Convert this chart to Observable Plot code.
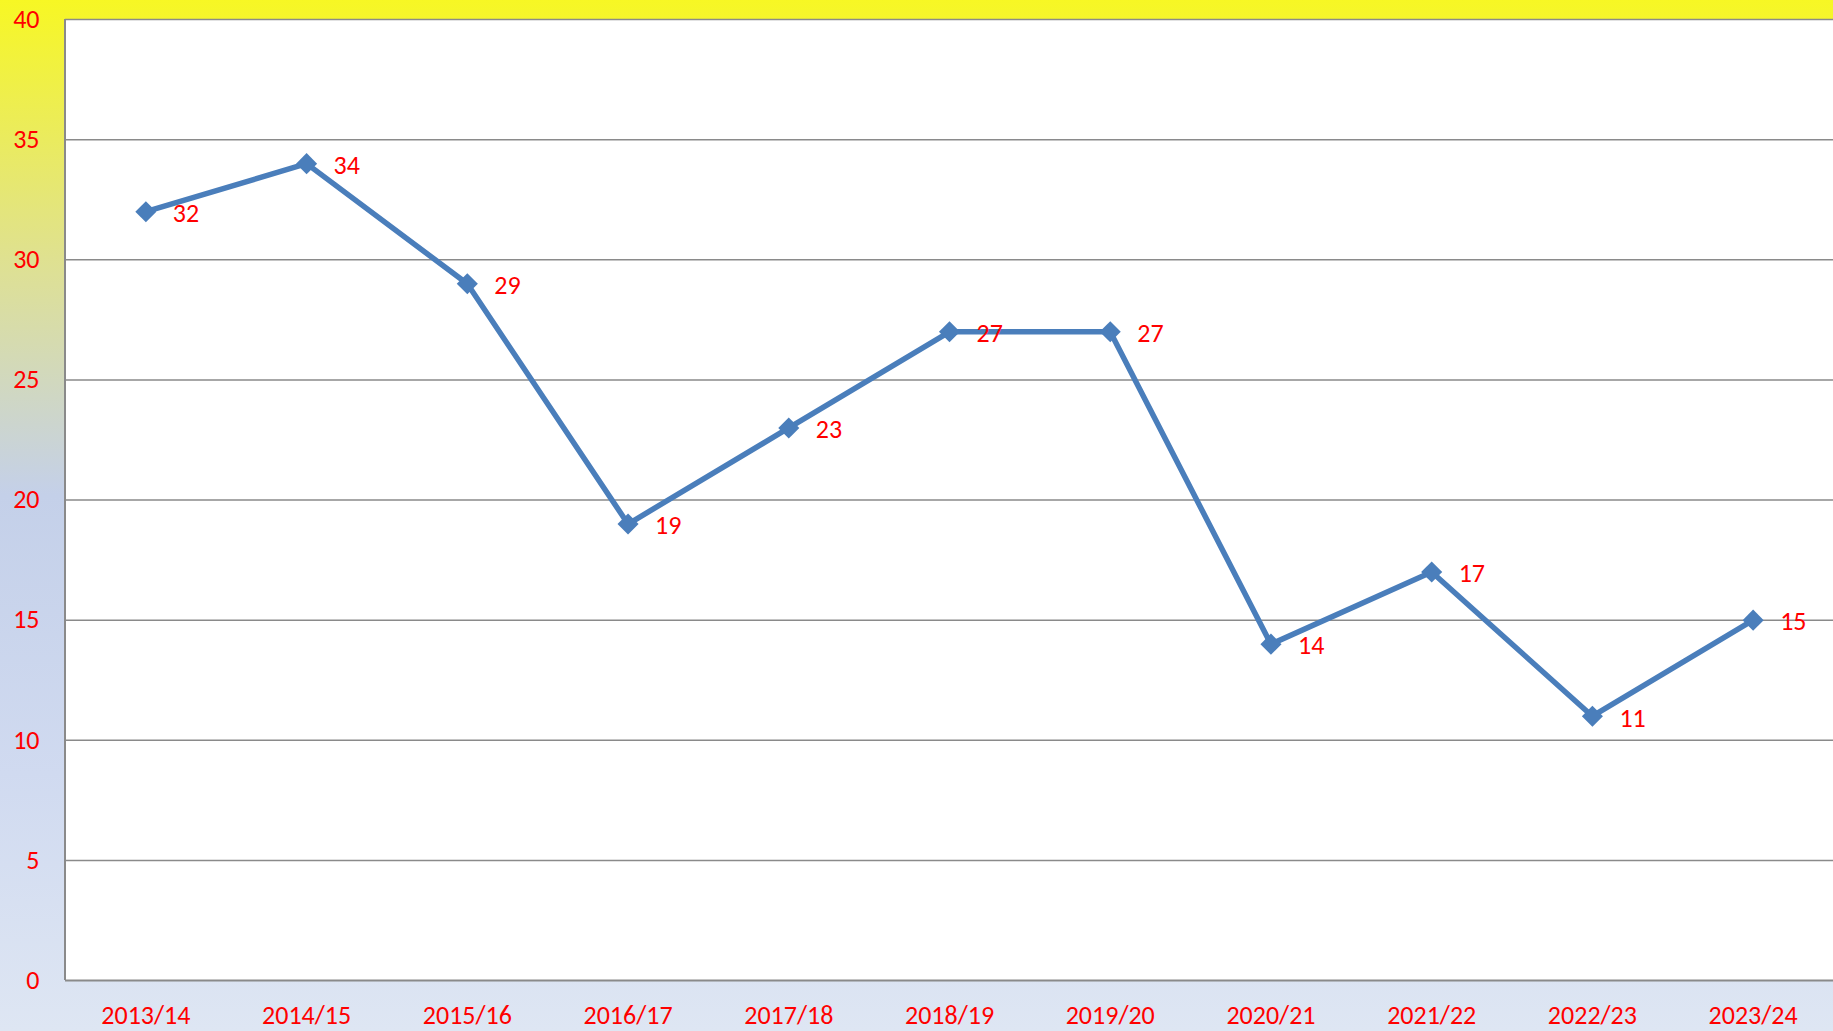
<!DOCTYPE html>
<html>
<head>
<meta charset="utf-8">
<script src="https://cdn.jsdelivr.net/npm/d3@7"></script>
<script src="https://cdn.jsdelivr.net/npm/@observablehq/plot@0.6"></script>
<style>
  html, body { margin: 0; padding: 0; }
  body {
    width: 1833px; height: 1031px; overflow: hidden;
    background: linear-gradient(to bottom, #f7f724 0%, #dfe190 25%, #c4d0e9 48%, #d0daf0 75%, #dee6f3 100%);
  }
  #chart svg { display: block; background: transparent; }
</style>
</head>
<body>
<div id="chart"></div>
<script>
const seasons = ["2013/14","2014/15","2015/16","2016/17","2017/18","2018/19","2019/20","2020/21","2021/22","2022/23","2023/24"];
const values = [32, 34, 29, 19, 23, 27, 27, 14, 17, 11, 15];
const yTicks = [0, 5, 10, 15, 20, 25, 30, 35, 40];

const data = seasons.map((s, i) => ({season: s, value: values[i]}));
const font = "Carlito, Calibri, Lato, 'Open Sans', sans-serif";

const chart = Plot.plot({
  width: 1833,
  height: 1031,
  marginLeft: 65,
  marginRight: 0,
  marginTop: 19,
  marginBottom: 51,
  style: {fontFamily: font, fontSize: "26px", color: "red", background: "transparent", overflow: "visible"},
  x: {type: "point", domain: seasons, padding: 0.5, round: false, label: null},
  y: {domain: [0, 40], label: null},
  marks: [
    Plot.frame({fill: "white", stroke: "none"}),
    Plot.ruleY(yTicks.filter(d => d > 0), {stroke: "#8a8a8a", strokeWidth: 1.5}),
    Plot.ruleY([0], {stroke: "#8a8a8a", strokeWidth: 2}),
    Plot.axisY(yTicks, {tickSize: 0, tickPadding: 26, fill: "red", fontSize: 26, label: null}),
    Plot.axisX(seasons, {tickSize: 0, tickPadding: 25, fill: "red", fontSize: 26, label: null}),
    Plot.lineY(data, {x: "season", y: "value", stroke: "#4a7ebb", strokeWidth: 5.5}),
    Plot.dot(data, {x: "season", y: "value", symbol: "diamond2", r: 9.5, fill: "#4a7ebb", stroke: "none"}),
    Plot.text(data, {x: "season", y: "value", text: d => String(d.value), dx: 27, dy: 2, textAnchor: "start", fill: "red", fontSize: 26})
  ]
});

// left axis line
const svg = d3.select(chart);
svg.append("line")
  .attr("x1", 65).attr("x2", 65).attr("y1", 19).attr("y2", 980)
  .attr("stroke", "#8a8a8a").attr("stroke-width", 2);

document.getElementById("chart").appendChild(chart);
</script>
</body>
</html>
